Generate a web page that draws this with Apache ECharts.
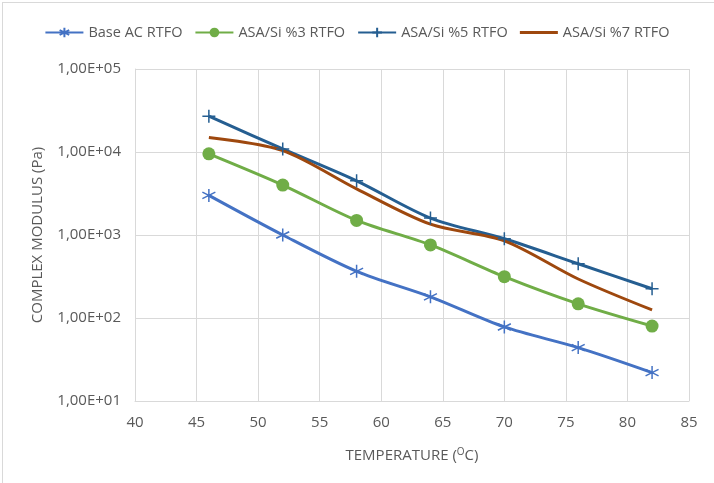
<!DOCTYPE html>
<html>
<head>
<meta charset="utf-8">
<script src="https://cdn.jsdelivr.net/npm/echarts@6/dist/echarts.min.js"></script>
<style>
    html, body { margin: 0; padding: 0; background: #fff; overflow: hidden; }
    #frame { position: absolute; left: 2px; top: 2px; width: 800px; height: 600px; border: 1px solid #d9d9d9; }
    #chart { position: absolute; left: 0; top: 0; width: 714px; height: 483px; }
</style>
</head>
<body>
<div id="frame"></div>
<div id="chart"></div>
<script>
// temperatures (°C)
let temps = [46, 52, 58, 64, 70, 76, 82];
// complex modulus (Pa)
let baseAC = [3000, 1000, 365, 180, 78, 44, 22];
let asa3 = [9500, 4000, 1500, 760, 315, 148, 80];
let asa5 = [27000, 10900, 4500, 1600, 900, 450, 225];
let asa7 = [15000, 10400, 3600, 1350, 850, 295, 125];

let names = ['Base AC RTFO', 'ASA/Si %3 RTFO', 'ASA/Si %5 RTFO', 'ASA/Si %7 RTFO'];
let colors = ['#4472C4', '#70AD47', '#255E91', '#9E480E'];

function pairs(arr) {
    let out = [];
    for (let i = 0; i < temps.length; i++) {
        out.push([temps[i], arr[i]]);
    }
    return out;
}

let txt = '#595959';
let font = '"Open Sans", sans-serif';
let fs = 15;

let myChart = echarts.init(document.getElementById('chart'));

// 星号和加号标记
let starPath = 'path://M0,-10L0,10M-8.7,-5L8.7,5M-8.7,5L8.7,-5';
let plusPath = 'path://M0,-10L0,10M-10,0L10,0';

let option = {
    animation: false,
    textStyle: { fontFamily: font, color: txt },
    legend: {
        top: 20,
        left: 'center',
        itemWidth: 38,
        itemHeight: 12,
        itemGap: 12,
        textStyle: { fontSize: 14.5, color: txt, fontFamily: font },
        data: [names[0], names[1], names[2], {
            name: names[3],
            icon: 'path://M0,0L40,0L40,3L0,3Z'
        }]
    },
    grid: { left: 135, right: 25, top: 69, bottom: 82 },
    xAxis: {
        type: 'value',
        min: 40,
        max: 85,
        interval: 5,
        nameLocation: 'middle',
        nameGap: 46,
        axisLine: { show: true, lineStyle: { color: '#d9d9d9' } },
        axisTick: { show: false },
        axisLabel: { fontSize: fs, color: txt, margin: 14 },
        splitLine: { show: true, lineStyle: { color: '#d9d9d9' } }
    },
    yAxis: {
        type: 'log',
        logBase: 10,
        min: 10,
        max: 100000,
        name: 'COMPLEX MODULUS (Pa)',
        nameLocation: 'middle',
        nameGap: 90,
        nameTextStyle: { fontSize: fs, color: txt },
        axisLine: { show: true, lineStyle: { color: '#d9d9d9' } },
        axisTick: { show: false },
        axisLabel: {
            fontSize: fs,
            color: txt,
            margin: 14,
            formatter: function (v) {
                let e = Math.round(Math.log10(v));
                return '1,00E+' + (e < 10 ? '0' + e : e);
            }
        },
        splitLine: { show: true, lineStyle: { color: '#d9d9d9' } }
    },
    series: [{
        name: names[0],
        type: 'line',
        smooth: 0.3,
        data: pairs(baseAC),
        symbol: starPath,
        symbolSize: 13,
        color: colors[0],
        lineStyle: { width: 3, color: colors[0] },
        itemStyle: { color: colors[0], borderColor: colors[0], borderWidth: 1.5 }
    }, {
        name: names[1],
        type: 'line',
        smooth: 0.3,
        data: pairs(asa3),
        symbol: 'circle',
        symbolSize: 13,
        color: colors[1],
        lineStyle: { width: 3, color: colors[1] },
        itemStyle: { color: colors[1] }
    }, {
        name: names[2],
        type: 'line',
        smooth: 0.3,
        data: pairs(asa5),
        symbol: plusPath,
        symbolSize: 13,
        color: colors[2],
        lineStyle: { width: 3, color: colors[2] },
        itemStyle: { color: colors[2], borderColor: colors[2], borderWidth: 1.5 }
    }, {
        name: names[3],
        type: 'line',
        smooth: 0.3,
        data: pairs(asa7),
        symbol: 'none',
        color: colors[3],
        lineStyle: { width: 3, color: colors[3] },
        itemStyle: { color: colors[3] }
    }]
};

// x 轴标题带上标
option.xAxis.name = '{n|TEMPERATURE (}{s|O}{n|C)}';
option.xAxis.nameTextStyle = {
    rich: {
        n: { fontSize: fs, color: txt, fontFamily: font },
        s: { fontSize: 10, color: txt, fontFamily: font, verticalAlign: 'top', padding: [0, 0, 7, 0] }
    }
};

myChart.setOption(option);
</script>
</body>
</html>
